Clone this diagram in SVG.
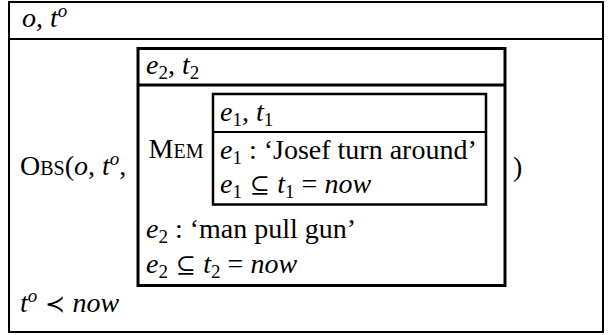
<svg xmlns="http://www.w3.org/2000/svg" width="609" height="335" viewBox="0 0 609 335">
<style>
text { font-family: "Liberation Serif", "DejaVu Serif", serif; font-size: 28px; fill: #000; }
.i { font-style: italic; }
.s { font-size: 19px; }
.sc { font-size: 20px; }
.sym { font-family: "DejaVu Serif", serif; font-size: 24px; }
.box { fill: none; stroke: #000; }
</style>
<rect width="609" height="335" fill="#fff"/>
<g id="outer">
  <rect class="box" x="9" y="2" width="594" height="330" stroke-width="2"/>
  <line class="box" x1="9" y1="39" x2="603" y2="39" stroke-width="2"/>
  <text x="22" y="27"><tspan class="i">o</tspan>, <tspan class="i">t</tspan><tspan class="s i" dy="-10">o</tspan></text>
  <text x="20" y="175">O<tspan class="sc">BS</tspan>(<tspan class="i">o</tspan>, <tspan class="i">t</tspan><tspan class="s i" dy="-10">o</tspan><tspan dy="10">,</tspan></text>
  <text x="513" y="176">)</text>
  <text x="20" y="312"><tspan class="i">t</tspan><tspan class="s i" dy="-10">o</tspan><tspan class="sym" dy="10"> ≺ </tspan><tspan class="i">now</tspan></text>
</g>
<g id="e2">
  <rect class="box" x="138" y="48.5" width="367" height="237" stroke-width="3"/>
  <line class="box" x1="138" y1="85" x2="505" y2="85" stroke-width="3"/>
  <text x="146" y="74"><tspan class="i">e</tspan><tspan class="s" dy="5">2</tspan><tspan dy="-5">, </tspan><tspan class="i">t</tspan><tspan class="s" dy="5">2</tspan></text>
  <text x="176" y="158" text-anchor="middle">M<tspan class="sc">EM</tspan></text>
  <text x="146" y="238"><tspan class="i">e</tspan><tspan class="s" dy="5">2</tspan><tspan dy="-5"> : ‘man pull gun’</tspan></text>
  <text x="146" y="273"><tspan class="i">e</tspan><tspan class="s" dy="5">2</tspan><tspan class="sym" dy="-5"> ⊆ </tspan><tspan class="i">t</tspan><tspan class="s" dy="5">2</tspan><tspan dy="-5"> = </tspan><tspan class="i">now</tspan></text>
</g>
<g id="e1">
  <rect class="box" x="213" y="94" width="273" height="110.5" stroke-width="2.5"/>
  <line class="box" x1="213" y1="132" x2="486" y2="132" stroke-width="2"/>
  <text x="220" y="121"><tspan class="i">e</tspan><tspan class="s" dy="5">1</tspan><tspan dy="-5">, </tspan><tspan class="i">t</tspan><tspan class="s" dy="5">1</tspan></text>
  <text x="220" y="159"><tspan class="i">e</tspan><tspan class="s" dy="5">1</tspan><tspan dy="-5"> : ‘Josef turn around’</tspan></text>
  <text x="220" y="193"><tspan class="i">e</tspan><tspan class="s" dy="5">1</tspan><tspan class="sym" dy="-5"> ⊆ </tspan><tspan class="i">t</tspan><tspan class="s" dy="5">1</tspan><tspan dy="-5"> = </tspan><tspan class="i">now</tspan></text>
</g>
</svg>
